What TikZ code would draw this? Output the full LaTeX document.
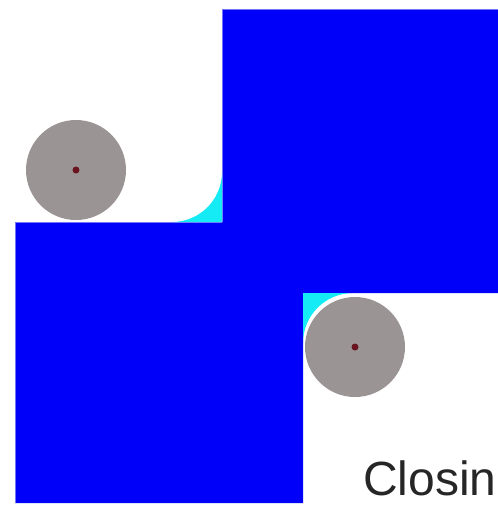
\documentclass[tikz,border=0pt]{standalone}
\usepackage{fontspec}
\setmainfont{Liberation Sans}
\definecolor{shapeblue}{RGB}{0,0,250}
\definecolor{fillcyan}{RGB}{20,235,245}
\definecolor{discgray}{RGB}{155,148,148}
\definecolor{dotred}{RGB}{105,20,30}
\tikzset{
  block/.style={fill=shapeblue, draw=shapeblue!60!white, line width=0.8pt},
  fillet/.style={fill=fillcyan},
  disc/.style={circle, fill=discgray, minimum size=100pt, inner sep=0pt},
  dot/.style={circle, fill=dotred, minimum size=7pt, inner sep=0pt},
  caption/.style={font=\fontsize{48}{52}\selectfont, text=black!85, inner sep=0pt, anchor=base west}
}
\begin{document}
\begin{tikzpicture}[x=1pt,y=-1pt]
\useasboundingbox (0,0) rectangle (498,507);
\begin{scope}
\clip (0,0) rectangle (498,507);
% blue union
\fill[shapeblue] (222,9) -- (510,9) -- (510,293) -- (303,293) -- (303,503) -- (15,503) -- (15,222) -- (222,222) -- cycle;
\draw[shapeblue!55!white, line width=0.8pt] (222,222) -- (222,9) -- (510,9);
\draw[shapeblue!55!white, line width=0.8pt] (15,503) -- (15,222) -- (222,222);
% cyan fillets added by closing
\fill[fillet] (222,172) arc[start angle=0, end angle=90, radius=50] -- (222,222) -- cycle;
\fill[fillet] (303,343) arc[start angle=180, end angle=270, radius=50] -- (303,293) -- cycle;
% structuring element discs
\node[disc] (d1) at (76,170) {};
\node[dot] (c1) at (d1.center) {};
\node[disc] (d2) at (355,347) {};
\node[dot] (c2) at (d2.center) {};
% caption
\node[caption] (cap) at (363,495) {Closing};
\end{scope}
\end{tikzpicture}
\end{document}
